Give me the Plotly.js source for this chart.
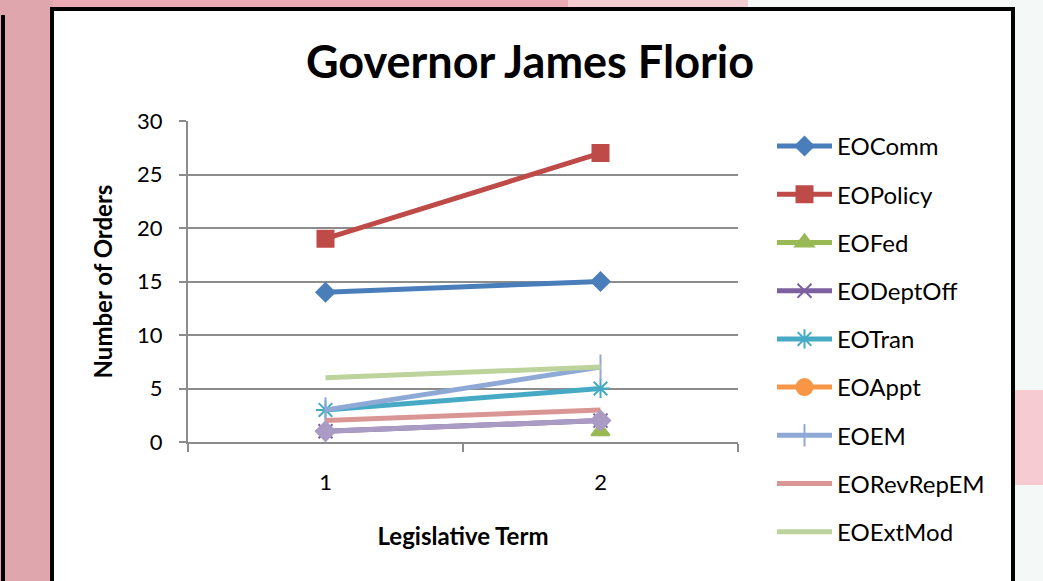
<!DOCTYPE html>
<html>
<head>
<meta charset="utf-8">
<script src="https://cdn.plot.ly/plotly-3.0.1.min.js"></script>
<style>html,body{margin:0;padding:0;}#chart{width:1043px;height:581px;}</style>
</head>
<body>
<div id="chart"></div>
<script>
const terms = [1, 2];
const termLabels = ["1", "2"];
const EOComm = [14, 15];
const EOPolicy = [19, 27];
const EOFed = [null, 1];
const EODeptOff = [1, 2];
const EOTran = [3, 5];
const EOAppt = [null, null];
const EOEM = [3, 7];
const EORevRepEM = [2, 3];
const EOExtMod = [6, 7];
const EOOther = [1, 2];

const seriesNames = ["EOComm","EOPolicy","EOFed","EODeptOff","EOTran","EOAppt","EOEM","EORevRepEM","EOExtMod"];
const seriesValues = [EOComm,EOPolicy,EOFed,EODeptOff,EOTran,EOAppt,EOEM,EORevRepEM,EOExtMod];
const colors = ["#4A7EBB","#BE4B48","#98B954","#7D60A0","#46AAC5","#F79646","#8EA9D6","#D99694","#BCD39C"];
const symbols = ["diamond","square","triangle-up","x-thin-open","asterisk-open","circle","line-ns-open",null,null];
const sizes = [14,16,16,14,16,16,18,0,0];

const traces = seriesNames.map((n,i)=>{
  const t = {
    type:"scatter", mode: symbols[i] ? "lines+markers" : "lines",
    x: terms, y: seriesValues[i], name: n, legendgroup: n,
    line:{color:colors[i], width:5}, connectgaps:false
  };
  if (symbols[i]) t.marker = {symbol:symbols[i], size:sizes[i], color:colors[i], line:{color:colors[i], width:2}};
  return t;
});
// unlabelled extra series (lavender diamonds), drawn last like in the original
traces.push({type:"scatter", mode:"lines+markers", x:terms, y:EOOther, name:"extra", legendgroup:"extra", showlegend:false,
  line:{color:"#A99BC4", width:5}, marker:{symbol:"diamond", size:17, color:"#A99BC4"}});
const font = "Lato, 'Open Sans', sans-serif";

const layout = {
  width:1043, height:581,
  paper_bgcolor:"#F4F8F6", plot_bgcolor:"rgba(0,0,0,0)",
  margin:{l:188, r:305, t:121, b:139},
  font:{family:font, color:"#000"},
  title:{text:"<b>Governor James Florio</b>", font:{size:45, family:font, color:"#000"},
    x:530/1043, xanchor:"center", xref:"container", y:1-62/581, yanchor:"middle", yref:"container"},
  xaxis:{range:[0.5,2.5], tickmode:"array", tickvals:terms, ticktext:termLabels, ticks:"",
    showgrid:false, zeroline:false, showline:true, linecolor:"#8c8c8c", linewidth:2,
    tickfont:{size:22}, ticklabelstandoff:20,
    minor:{tickmode:"array", tickvals:[0.5,1.5,2.5], ticks:"outside", ticklen:8, tickcolor:"#8c8c8c", tickwidth:2, showgrid:false},
    title:{text:"<b>Legislative Term</b>", font:{size:24}, standoff:34}},
  yaxis:{range:[0,30], tickvals:[0,5,10,15,20,25,30], ticks:"outside", ticklen:7, tickcolor:"#8c8c8c", tickwidth:2,
    showgrid:true, gridcolor:"#8c8c8c", gridwidth:2, zeroline:false, showline:true, linecolor:"#8c8c8c", linewidth:2,
    tickfont:{size:22}, ticklabelstandoff:12,
    title:{text:"<b>Number of Orders</b>", font:{size:24}, standoff:18}},
  legend:{xref:"container", yref:"container", x:772/1043, xanchor:"left", y:1-124/581, yanchor:"top",
    font:{size:24}, bgcolor:"rgba(0,0,0,0)", tracegroupgap:14, traceorder:"grouped", itemwidth:55, maxheight:1},
  shapes:[
    {type:"rect", xref:"paper", yref:"paper", layer:"below", x0:-188/550, x1:-135/550, y0:-1, y1:2, fillcolor:"#DFA6AE", line:{width:0}},
    {type:"rect", xref:"paper", yref:"paper", layer:"below", x0:-135/550, x1:380/550, y0:(442-12)/321, y1:2, fillcolor:"#EAAAB4", line:{width:0}},
    {type:"rect", xref:"paper", yref:"paper", layer:"below", x0:380/550, x1:560/550, y0:(442-12)/321, y1:2, fillcolor:"#F3CDD2", line:{width:0}},
    {type:"rect", xref:"paper", yref:"paper", layer:"below", x0:(1012-188)/550, x1:(1050-188)/550, y0:(442-470)/321, y1:(442-405)/321, fillcolor:"#EFA9B5", line:{width:0}},
    {type:"rect", xref:"paper", yref:"paper", layer:"below", x0:(1012-188)/550, x1:(1050-188)/550, y0:(442-485)/321, y1:(442-390)/321, fillcolor:"#F6CBD2", line:{width:0}},
    {type:"line", xref:"paper", yref:"paper", layer:"below", x0:-185/550, x1:-185/550, y0:-1, y1:(442-15)/321, line:{color:"#000", width:4}},
    {type:"rect", xref:"paper", yref:"paper", layer:"below", x0:-136/550, x1:(1013-188)/550, y0:(442-620)/321, y1:(442-9)/321, fillcolor:"#FFFFFF", line:{color:"#000", width:4}}
  ]
};
Plotly.newPlot("chart", traces, layout, {displayModeBar:false, staticPlot:true});
</script>
</body>
</html>
